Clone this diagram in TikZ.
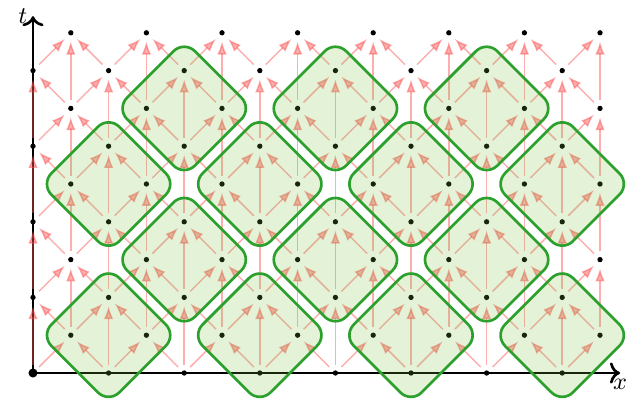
\documentclass[tikz,border=0pt]{standalone}
\usetikzlibrary{arrows.meta}
\definecolor{arrc}{RGB}{250,75,75}
\definecolor{boxline}{RGB}{44,160,44}
\definecolor{boxfill}{RGB}{120,190,60}
\begin{document}
\begin{tikzpicture}[x=0.5cm,y=0.5cm,
  pt/.style={circle, fill=black, inner sep=0pt, minimum size=2pt, outer sep=2.2pt},
  origpt/.style={circle, fill=black, inner sep=0pt, minimum size=3.4pt, outer sep=1.5pt},
  link/.style={draw=arrc, opacity=0.45, line width=0.55pt, -{Latex[length=5pt,width=3.6pt]}},
  axisline/.style={line width=1pt, ->},
  cellbox/.style={draw=boxline, line width=1pt, fill=boxfill, fill opacity=0.2,
    rounded corners=0.2cm, minimum width=1.27cm, minimum height=1.27cm, inner sep=0pt},
  lbl/.style={font=\small}
]
\useasboundingbox (-0.873,-0.767) rectangle (15.767,9.868);
\coordinate (o) at (0,0);
\coordinate (xe) at (15.53,0);
\coordinate (te) at (0,9.44);
\draw[axisline] (o) -- (xe);
\draw[axisline] (o) -- (te);
\node[lbl, below, inner sep=2pt] (xl) at (xe) {$x$};
\node[lbl, left, inner sep=2pt] (tl) at (te) {$t$};
% lattice points
\foreach \i in {0,...,15} {
  \foreach \j in {0,...,9} {
    \pgfmathtruncatemacro\parity{mod(\i+\j,2)}
    \ifnum\parity=0
      \ifnum\i=0 \ifnum\j=0
        \node[origpt] (p-\i-\j) at (\i,\j) {};
      \else
        \node[pt] (p-\i-\j) at (\i,\j) {};
      \fi
      \else
        \node[pt] (p-\i-\j) at (\i,\j) {};
      \fi
    \fi
  }
}
% causal links
\foreach \i in {0,...,15} {
  \foreach \j in {0,...,9} {
    \pgfmathtruncatemacro\parity{mod(\i+\j,2)}
    \ifnum\parity=0
      \pgfmathtruncatemacro\ja{\j+1}
      \pgfmathtruncatemacro\jb{\j+2}
      \pgfmathtruncatemacro\ip{\i+1}
      \pgfmathtruncatemacro\im{\i-1}
      \ifnum\jb<10 \draw[link] (p-\i-\j) -- (p-\i-\jb); \fi
      \ifnum\ja<10
        \ifnum\ip<16 \draw[link] (p-\i-\j) -- (p-\ip-\ja); \fi
        \ifnum\im>-1 \draw[link] (p-\i-\j) -- (p-\im-\ja); \fi
      \fi
    \fi
  }
}
% cells
\foreach \bx/\by in {2/1,6/1,10/1,14/1,4/3,8/3,12/3,2/5,6/5,10/5,14/5,4/7,8/7,12/7} {
  \node[cellbox, rotate=45] (b-\bx-\by) at (\bx,\by) {};
}
\end{tikzpicture}
\end{document}
